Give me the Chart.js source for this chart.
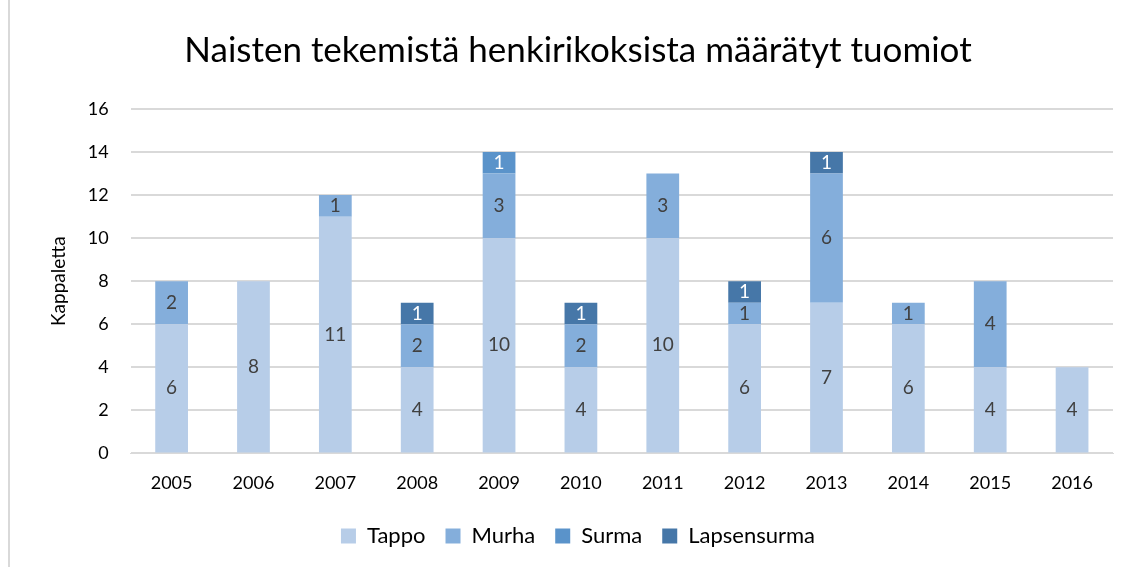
<!DOCTYPE html>
<html>
<head>
<meta charset="utf-8">
<script src="https://cdn.jsdelivr.net/npm/chart.js@4/dist/chart.umd.min.js"></script>
<style>
  html, body { margin: 0; padding: 0; background: #fff; }
  #wrap { position: absolute; left: 8px; top: 0; width: 1122px; height: 567px; border-left: 2px solid #d9d9d9; box-sizing: border-box; }
</style>
</head>
<body>
<div id="wrap"><canvas id="myChart" width="1120" height="567"></canvas></div>
<script>
// Data
const years = ['2005', '2006', '2007', '2008', '2009', '2010', '2011', '2012', '2013', '2014', '2015', '2016'];
const tappo = [6, 8, 11, 4, 10, 4, 10, 6, 7, 6, 4, 4];
const murha = [2, 0, 1, 2, 3, 2, 3, 1, 6, 1, 4, 0];
const surma = [0, 0, 0, 0, 1, 0, 0, 0, 0, 0, 0, 0];
const lapsensurma = [0, 0, 0, 1, 0, 1, 0, 1, 1, 0, 0, 0];

const fontFamily = 'Lato, "Open Sans", sans-serif';

// Draw value labels in the middle of each segment
const segmentLabels = {
    id: 'segmentLabels',
    afterDatasetsDraw(chart) {
        const ctx = chart.ctx;
        ctx.save();
        ctx.font = '19px ' + fontFamily;
        ctx.textAlign = 'center';
        ctx.textBaseline = 'middle';
        chart.data.datasets.forEach((ds, i) => {
            const meta = chart.getDatasetMeta(i);
            meta.data.forEach((bar, j) => {
                const v = ds.data[j];
                if (!v) return;
                ctx.fillStyle = ds.labelColor;
                ctx.fillText(String(v), bar.x, (bar.y + bar.base) / 2);
            });
        });
        ctx.restore();
    }
};

const ctx = document.getElementById('myChart').getContext('2d');
new Chart(ctx, {
    type: 'bar',
    data: {
        labels: years,
        datasets: [
            { label: 'Tappo', data: tappo, backgroundColor: '#b7cde8', labelColor: '#404040' },
            { label: 'Murha', data: murha, backgroundColor: '#84aedb', labelColor: '#404040' },
            { label: 'Surma', data: surma, backgroundColor: '#5a93ca', labelColor: '#ffffff' },
            { label: 'Lapsensurma', data: lapsensurma, backgroundColor: '#4677a8', labelColor: '#ffffff' }
        ]
    },
    options: {
        responsive: false,
        animation: false,
        layout: { padding: { left: 33, right: 17, top: 30, bottom: 10 } },
        datasets: { bar: { categoryPercentage: 1, barPercentage: 0.4 } },
        plugins: {
            title: {
                display: true,
                text: 'Naisten tekemistä henkirikoksista määrätyt tuomiot',
                color: '#000',
                font: { family: fontFamily, size: 35, weight: 'normal' },
                padding: { top: 0, bottom: 37 }
            },
            legend: {
                position: 'bottom',
                labels: {
                    color: '#000',
                    font: { family: fontFamily, size: 22 },
                    boxWidth: 15,
                    boxHeight: 15,
                    padding: 20
                }
            },
            tooltip: { enabled: false }
        },
        scales: {
            x: {
                stacked: true,
                grid: { display: false },
                border: { color: '#d9d9d9' },
                ticks: { color: '#000', font: { family: fontFamily, size: 18 }, padding: 11 }
            },
            y: {
                stacked: true,
                min: 0,
                max: 16,
                ticks: { stepSize: 2, color: '#000', font: { family: fontFamily, size: 18 }, padding: 22 },
                grid: { color: '#d9d9d9', lineWidth: 2, drawTicks: false },
                border: { display: false },
                title: {
                    display: true,
                    text: 'Kappaletta',
                    color: '#000',
                    font: { family: fontFamily, size: 19 },
                    padding: { top: 4, bottom: -4 }
                }
            }
        }
    },
    plugins: [segmentLabels]
});
</script>
</body>
</html>
